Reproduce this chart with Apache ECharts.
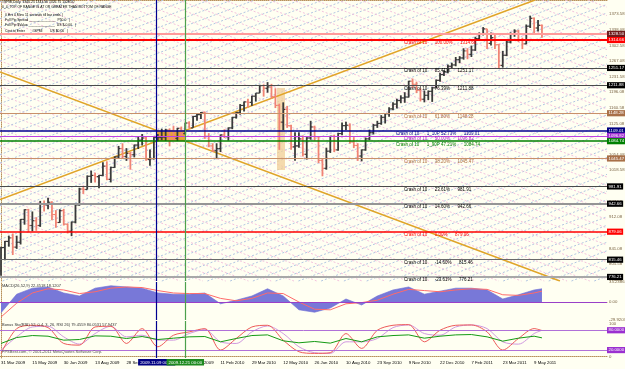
<!DOCTYPE html>
<html><head><meta charset="utf-8">
<script src="https://cdn.jsdelivr.net/npm/echarts@6/dist/echarts.min.js"></script>
<style>html,body{margin:0;padding:0;background:#FFFFF2;}#c{width:625px;height:369px;}</style>
</head><body><div id="c"></div>
<script>
// ---------- DATA (one sample = 4 daily bars) ----------
const firstOpen = 790;
const closes = [843,857,865,844,855,907,929,893,904,893,
 943,940,946,918,900,927,896,880,901,940,
 976,975,1005,1007,1004,1007,1028,998,1025,1049,
 1068,1050,1057,1054,1076,1087,1092,1043,1045,1093,
 1093,1094,1110,1109,1091,1114,1102,1126,1115,1141,
 1145,1150,1096,1074,1063,1068,1099,1095,1115,1139,
 1150,1166,1174,1173,1187,1194,1211,1205,1208,1186,
 1166,1128,1157,1120,1072,1074,1090,1055,1092,1117,
 1095,1041,1023,1062,1096,1065,1102,1120,1121,1083,
 1075,1051,1065,1090,1104,1121,1125,1139,1147,1158,
 1169,1177,1183,1185,1221,1214,1200,1180,1189,1198,
 1206,1223,1236,1242,1255,1258,1270,1274,1290,1282,
 1292,1318,1329,1340,1307,1320,1304,1257,1280,1310,
 1328,1335,1314,1306,1346,1364,1342,1348,1328];
const highs = [845,858,870,875,870,908,930,931,925,912,
 949,950,956,948,928,930,931,898,902,942,
 979,982,1007,1018,1013,1008,1037,1039,1027,1050,
 1074,1080,1069,1060,1077,1096,1101,1095,1066,1094,
 1101,1113,1113,1114,1119,1115,1118,1127,1130,1142,
 1149,1151,1152,1103,1080,1080,1100,1112,1116,1140,
 1151,1169,1175,1181,1188,1194,1213,1214,1219,1215,
 1205,1170,1173,1165,1122,1105,1105,1098,1094,1131,
 1120,1095,1045,1070,1097,1099,1104,1127,1129,1125,
 1094,1080,1066,1093,1111,1124,1131,1144,1148,1162,
 1173,1181,1189,1196,1222,1227,1220,1205,1200,1200,
 1208,1225,1240,1246,1259,1263,1276,1278,1296,1296,
 1302,1322,1332,1344,1340,1332,1327,1306,1290,1315,
 1332,1339,1338,1320,1350,1370,1366,1360,1350];
const lows = [779,814,845,826,840,850,895,878,880,881,
 890,925,930,905,888,899,893,875,869,898,
 938,965,975,990,991,978,1005,996,991,1024,
 1045,1045,1040,1020,1048,1067,1075,1040,1029,1043,
 1085,1087,1085,1073,1086,1085,1095,1100,1114,1115,
 1131,1135,1090,1071,1060,1044,1060,1092,1086,1112,
 1136,1145,1152,1161,1165,1175,1194,1186,1195,1181,
 1160,1065,1110,1115,1065,1040,1070,1050,1043,1088,
 1086,1035,1005,1020,1058,1060,1063,1098,1110,1079,
 1069,1040,1039,1063,1087,1100,1115,1122,1125,1140,
 1155,1159,1171,1172,1184,1206,1194,1175,1173,1178,
 1174,1205,1220,1233,1239,1250,1255,1262,1270,1271,
 1276,1290,1315,1325,1294,1302,1294,1249,1252,1278,
 1307,1322,1310,1294,1305,1342,1330,1334,1320];

const dateLabels = ['31 Mar 2009','15 May 2009','30 Jun 2009','13 Aug 2009','28 Sep 2009','11 Nov 2009','28 Dec 2009','11 Feb 2010','29 Mar 2010','12 May 2010','26 Jun 2010','10 Aug 2010','23 Sep 2010','9 Nov 2010','22 Dec 2010','7 Feb 2011','23 Mar 2011','9 May 2011'];
const priceTicks = [1373.58,1338.08,1302.58,1267.08,1231.58,1196.08,1160.58,1125.08,1089.58,1054.08,1018.58,983.08,947.58,912.08,876.58,841.08,805.58,770.08];

const levelPrices = [1314.66,1251.17,1211.88,1148.28,1109.01,1096.82,1084.74,1045.47,981.91,942.66,879.06,815.46,776.21];
const levelNames  = ['100.00%','85.41%','76.39%','61.80%','1_10P 52.73%','50.00%','1_90P 47.21%','38.20%','23.61%','14.60%','0.00%','-14.60%','-23.61%'];
const bidPrice = 1328.50;

// vertical time markers (sample index) and range box
const markerK = [39.72, 47.02];
const markerTexts = ['2009.11.09 00:00','2009.12.21 00:00'];
const rangeBox = [39.72, 47.02, 1084.74, 1109.01];   // kStart, kEnd, low, high
const crashBox = [70.41, 72.45, 1019.2, 1205.6];

// indicators (one value every 4 samples, last at final sample)
const macd   = [-18,13,23,25,15,10,23,27,25,23,15,13,13,15,-3,3,10,22,10,-13,-17,-10,5,-5,10,20,25,13,18,23,23,20,5,12,20,22];
const signal = [-25,-2,15,22,20,14,17,23,25,24,19,15,14,14,6,2,6,15,14,0,-12,-13,-3,-1,3,13,21,19,17,20,22,21,12,11,15,18];
const stochK = [10,85,95,88,40,35,90,92,40,85,30,65,75,85,20,55,90,95,50,15,10,12,70,25,80,95,97,45,80,95,96,75,20,55,85,79];
const stochD = [20,60,90,92,60,38,70,92,60,65,50,50,70,82,45,40,75,93,70,30,12,10,45,45,55,88,96,70,65,90,96,85,45,38,70,80];
const rsi    = [40,58,64,62,50,52,63,62,55,61,52,56,60,61,45,55,64,66,48,42,46,41,55,45,60,64,66,56,62,66,67,60,47,56,62,57];
const macdRange = [-29.9203, 33.2386];
const stochLevels = [80, 20];

// ---------- LAYOUT / STYLE ----------
const FONT = '"Liberation Sans", Arial, sans-serif';
const PXK = 3.92, PLOT_W = 607;
const kMin = -1 / PXK, kMax = (PLOT_W - 1) / PXK;
const pMin = 767.0, pMax = 1405.6;
const UP = '#3a3a3a', DOWN = '#F08474';
const levelColors = ['#FF0000','#4a4a4a','#4a4a4a','#C8906A','#000090','#C040E0','#008000','#C8906A','#4a4a4a','#959595','#FF0000','#6a6a6a','#A8A8A8'];
const levelWidths = [2,1,1,1,1.5,1,1.5,1,1,2,1.5,1,2];
const textColors  = ['#FF0000','#000','#000','#B07040','#000090','#A020C0','#008000','#B07040','#000','#000','#FF0000','#000','#000'];
const boxColors   = ['#FF0000','#000','#000','#A87048','#000080','#A030D0','#008000','#A87048','#000','#000','#FF0000','#000','#000'];
const BROWN_DOT = {color:'#B8905A', type:'dotted', width:1};

const indK = macd.map((_, i) => Math.min(4 * i, closes.length - 1));
const pairs = arr => arr.map((v, i) => [indK[i], v]);

const candleData = closes.map((c, i) => [i, i === 0 ? firstOpen : closes[i - 1], c, lows[i], highs[i]]);

function clipLine(c, m) {
  const k1 = (pMin - c) / m, k2 = (pMax - c) / m;
  const ka = Math.max(kMin, Math.min(k1, k2)), kb = Math.min(kMax, Math.max(k1, k2));
  if (ka >= kb) return null;
  return [ka, c + m * ka, kb, c + m * kb];
}
const slope = (rangeBox[3] - rangeBox[2]) / (rangeBox[1] - rangeBox[0]);
const cUp = rangeBox[2] - slope * rangeBox[0];
const cDn = rangeBox[3] + slope * rangeBox[0];
const diagUp = clipLine(cUp, slope), diagDn = clipLine(cDn, -slope);

const LSTEP = 19.3;
const lattice = [];
for (let n = -90; n <= 90; n++) {
  const a = clipLine(cUp + n * LSTEP + 6, slope); if (a) lattice.push([...a, 0]);
  const b = clipLine(cDn + n * LSTEP + 6, -slope); if (b) lattice.push([...b, 1]);
}

function lineEl(a, b, style) { return {type:'line', shape:{x1:a[0], y1:a[1], x2:b[0], y2:b[1]}, style}; }
const boxLabel = (text, bg) => ({show:true, position:'end', distance:0, formatter:text, color:'#fff', backgroundColor:bg,
  fontSize:4.3, fontFamily:FONT, padding:[0.8,1.5,0.4,1.5], lineHeight:5});

const levelMarks = levelPrices.map((p, i) => ({
  yAxis: p, lineStyle:{color:levelColors[i], width:levelWidths[i], type:'solid'}, label: boxLabel(p.toFixed(2), boxColors[i])
}));
levelMarks.push({yAxis: bidPrice, lineStyle:{color:'#FF9A9A', width:2, type:'solid'}, label: boxLabel(bidPrice.toFixed(2), '#6E1C1C')});
const vColors = ['#000090', '#4CA04C'];
const vBoxes = ['#000080', '#1E8A1E'];
const vMarks = (withLabel) => markerK.map((k, i) => ({
  xAxis: k, lineStyle:{color:vColors[i], width:1.2, type:'solid'},
  label: withLabel ? {show:true, position:'start', distance:1, formatter:markerTexts[i], color:'#fff', backgroundColor:vBoxes[i],
          fontSize:4.3, fontFamily:FONT, padding:[1,2,0.5,2], lineHeight:5} : {show:false}
}));

const xBase = (g, pos, extra) => Object.assign({type:'value', gridIndex:g, position:pos, min:kMin, max:kMax,
  axisLine:{show:true, lineStyle:BROWN_DOT}, axisTick:{show:false}, axisLabel:{show:false}, splitLine:{show:false}}, extra || {});
const yLabel = (vals, fmt) => ({customValues:vals, formatter:fmt, fontSize:4.3, fontFamily:FONT, color:'#7A6444', margin:2});

const option = {
  animation:false,
  backgroundColor:'#FFFFF2',
  grid:[
    {left:0, top:0, width:PLOT_W, height:281, outerBoundsMode:'none', containLabel:false},
    {left:0, top:282, width:PLOT_W, height:38, outerBoundsMode:'none', containLabel:false},
    {left:0, top:321, width:PLOT_W, height:37, outerBoundsMode:'none', containLabel:false}
  ],
  xAxis:[
    xBase(0,'top'), xBase(1,'top'), xBase(2,'top'),
    xBase(2,'bottom',{axisLine:{show:false}, axisLabel:{show:true, customValues:dateLabels.map((_, i) => i * 8),
      formatter:v => dateLabels[Math.round(v / 8)], fontSize:4.3, fontFamily:FONT, color:'#000', align:'left', margin:3}})
  ],
  yAxis:[
    {type:'value', gridIndex:0, position:'right', min:pMin, max:pMax, axisLine:{show:true, lineStyle:BROWN_DOT}, axisTick:{show:false}, splitLine:{show:false},
     axisLabel:yLabel(priceTicks, v => v.toFixed(2))},
    {type:'value', gridIndex:1, position:'right', min:macdRange[0], max:macdRange[1], axisLine:{show:true, lineStyle:BROWN_DOT}, axisTick:{show:false}, splitLine:{show:false},
     axisLabel:yLabel([macdRange[1], 0, macdRange[0]], v => v === 0 ? '0.00' : v.toFixed(4))},
    {type:'value', gridIndex:2, position:'right', min:-4, max:108, axisLine:{show:true, lineStyle:BROWN_DOT}, axisTick:{show:false}, splitLine:{show:false},
     axisLabel:yLabel([100, 0], v => String(v))}
  ],
  series:[
    {type:'custom', xAxisIndex:0, yAxisIndex:0, silent:true, z:1, data:lattice,
     renderItem:(p, api) => lineEl(api.coord([api.value(0), api.value(1)]), api.coord([api.value(2), api.value(3)]),
       {stroke: api.value(4) ? '#F4C2DE' : '#B2C6E2', lineWidth:1, lineDash:[2,2], fill:null})},
    {type:'custom', xAxisIndex:0, yAxisIndex:0, silent:true, z:2, data:[crashBox, rangeBox],
     renderItem:(p, api) => {
       const a = api.coord([api.value(0), api.value(3)]), b = api.coord([api.value(1), api.value(2)]);
       return {type:'rect', shape:{x:a[0], y:a[1], width:b[0] - a[0], height:b[1] - a[1]},
         style:{fill: p.dataIndex === 0 ? 'rgba(240,205,150,0.75)' : '#E8A43A'}};
     }},
    {type:'line', xAxisIndex:0, yAxisIndex:0, silent:true, z:3, symbol:'none', data:[[diagUp[0], diagUp[1]], [diagUp[2], diagUp[3]]],
     lineStyle:{color:'#E0A428', width:1.5},
     markLine:{silent:true, symbol:['none','none'], animation:false, data:[...levelMarks, ...vMarks(false)]}},
    {type:'line', xAxisIndex:0, yAxisIndex:0, silent:true, z:3, symbol:'none', data:[[diagDn[0], diagDn[1]], [diagDn[2], diagDn[3]]],
     lineStyle:{color:'#E0A428', width:1.5}},
    {type:'custom', xAxisIndex:0, yAxisIndex:0, silent:true, z:4, data:candleData,
     renderItem:(p, api) => {
       const k = api.value(0), o = api.value(1), c = api.value(2), l = api.value(3), h = api.value(4);
       const col = c >= o ? UP : DOWN;
       const pl = api.coord([k, l]), ph = api.coord([k, h]), po = api.coord([k, o]), pc = api.coord([k, c]);
       const x = pl[0];
       return {type:'group', children:[
         lineEl([x, ph[1]], [x, pl[1]], {stroke:col, lineWidth:1.8, fill:null}),
         lineEl([x - 2, po[1]], [x, po[1]], {stroke:col, lineWidth:1.2, fill:null}),
         lineEl([x, pc[1]], [x + 2, pc[1]], {stroke:col, lineWidth:1.2, fill:null})
       ]};
     }},
    {type:'custom', xAxisIndex:0, yAxisIndex:0, silent:true, z:5, data:levelPrices.map(p => [0, p]),
     renderItem:(p, api) => {
       const y = api.coord([0, api.value(1)])[1];
       const i = p.dataIndex;
       const long = levelNames[i].indexOf('P ') > 0;
       return {type:'text', x: long ? 396 : 404, y: y + 0.6,
         style:{text:'Crash of 10      ' + levelNames[i] + '      ' + levelPrices[i].toFixed(2), fill:textColors[i],
                fontSize:4.5, fontFamily:FONT, align:'left', verticalAlign:'top'}};
     }},
    {type:'line', xAxisIndex:1, yAxisIndex:1, silent:true, symbol:'none', data:pairs(macd), z:2,
     lineStyle:{color:'#6A6AD4', width:0.6}, areaStyle:{color:'#7878D8', opacity:1},
     markLine:{silent:true, symbol:['none','none'], animation:false, data:[
       {yAxis:0, lineStyle:{color:'#9A40C8', width:1, type:'solid'}, label:{show:false}},
       {yAxis:macd[macd.length - 1], lineStyle:{opacity:0}, label:boxLabel(macd[macd.length - 1].toFixed(4), '#9A30D0')},
       ...vMarks(false)]}},
    {type:'line', xAxisIndex:1, yAxisIndex:1, silent:true, symbol:'none', data:pairs(signal), z:3,
     lineStyle:{color:'#FF6A6A', width:1}},
    {type:'line', xAxisIndex:2, yAxisIndex:2, silent:true, symbol:'none', data:pairs(stochD), z:3, smooth:0.3,
     lineStyle:{color:'#D098E0', width:1}},
    {type:'line', xAxisIndex:2, yAxisIndex:2, silent:true, symbol:'none', data:pairs(stochK), z:3, smooth:0.3,
     lineStyle:{color:'#EE5A5A', width:1},
     markLine:{silent:true, symbol:['none','none'], animation:false, data:[
       ...stochLevels.map(v => ({yAxis:v, lineStyle:{color:'#B070D8', width:1, type:'solid'}, label:boxLabel(v.toFixed(4), '#9A30D0')})),
       ...vMarks(true)]}},
    {type:'line', xAxisIndex:2, yAxisIndex:2, silent:true, symbol:'none', data:pairs(rsi), z:4,
     lineStyle:{color:'#149A14', width:1}}
  ],
  graphic:[
    {type:'text', left:2, top:1, z:100, style:{text:'#SPMI,Daily  1340.25 1343.50 1326.75 1328.50', fill:'#000', fontSize:3.4, fontFamily:FONT}},
    {type:'text', left:2, top:6, z:100, style:{text:'0_4_TOP OF RANGE IS AT OR GREATER THAN BOTTOM OF RANGE', fill:'#000', fontSize:3.4, fontFamily:FONT}},
    {type:'text', left:5, top:14, z:100, style:{text:'0 Hrs 0 Mins 11 seconds till bar ends  |', fill:'#000', fontSize:3.4, fontFamily:FONT}},
    {type:'text', left:5, top:19, z:100, style:{text:'Full Pip Spread ______________  P50.0   |', fill:'#000', fontSize:3.4, fontFamily:FONT}},
    {type:'text', left:5, top:23.5, z:100, style:{text:'Full Pip $Value ______________  US $-0.00   |', fill:'#000', fontSize:3.4, fontFamily:FONT}},
    {type:'text', left:5, top:30, z:100, style:{text:'Cost to Enter        #SPMI        US $0.00   |', fill:'#000', fontSize:3.4, fontFamily:FONT}},
    {type:'text', left:2, top:284, z:100, style:{text:'MACD(26,52,9) 22.4518 18.1207', fill:'#333', fontSize:4, fontFamily:FONT}},
    {type:'text', left:2, top:322.5, z:100, style:{text:'Bonus Sto(RSI) 52, 0.4, 3, 26, RSI 26) 79.4559 80.0531 57.9437', fill:'#333', fontSize:4, fontFamily:FONT}},
    {type:'text', left:2, top:350, z:100, style:{text:'FPSBest.com, \u00a9 2001-2011 MetaQuotes Software Corp.', fill:'#555', fontSize:4, fontFamily:FONT}}
  ]
};
const chart = echarts.init(document.getElementById('c'), null, {renderer:'canvas', width:625, height:369});
chart.setOption(option);
</script></body></html>
